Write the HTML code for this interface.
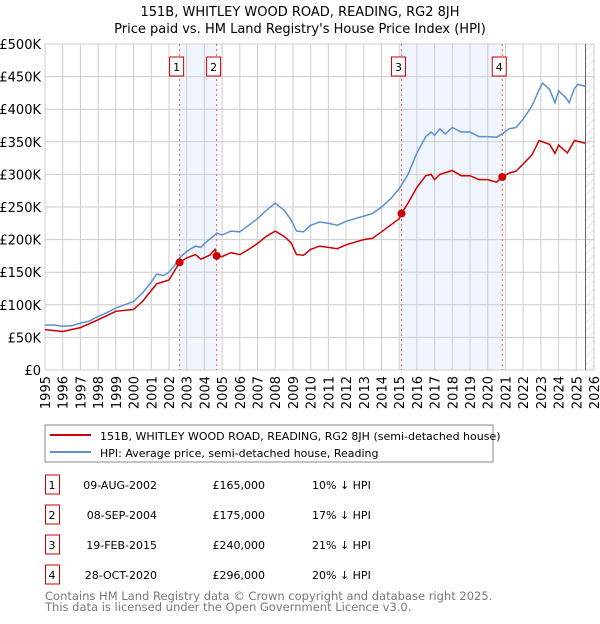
<!DOCTYPE html>
<html><head><meta charset="utf-8"><style>
body{margin:0;background:#fff;width:600px;height:620px;overflow:hidden;font-family:"DejaVu Sans","Liberation Sans",sans-serif;}
svg text{font-family:"DejaVu Sans","Liberation Sans",sans-serif;}
</style></head><body>
<svg id="chart" width="600" height="620">
<defs><pattern id="hatch" width="6" height="6" patternUnits="userSpaceOnUse" patternTransform="rotate(45)"><line x1="0" y1="0" x2="0" y2="6" stroke="#ccc" stroke-width="1"/></pattern></defs>
<text x="300" y="16" text-anchor="middle" font-size="13">151B, WHITLEY WOOD ROAD, READING, RG2 8JH</text>
<text x="300" y="33" text-anchor="middle" font-size="13">Price paid vs. HM Land Registry's House Price Index (HPI)</text>
<g id="plot"></g>
<rect x="45" y="425" width="448" height="37" fill="#fff" stroke="#888"/>
<line x1="50" y1="435" x2="91" y2="435" stroke="#cc0000" stroke-width="2"/>
<text x="100" y="440" font-size="11">151B, WHITLEY WOOD ROAD, READING, RG2 8JH (semi-detached house)</text>
<line x1="50" y1="452" x2="91" y2="452" stroke="#5b8fd0" stroke-width="2"/>
<text x="100" y="457" font-size="11">HPI: Average price, semi-detached house, Reading</text>
<g id="table" font-size="11"></g>
<text x="45" y="600" font-size="11.5" fill="#777">Contains HM Land Registry data © Crown copyright and database right 2025.</text>
<text x="45" y="611" font-size="11.5" fill="#777">This data is licensed under the Open Government Licence v3.0.</text>
</svg>
<script>
const hpiT=[1995,1995.5,1996,1996.5,1997,1997.5,1998,1998.5,1999,1999.5,2000,2000.5,2001,2001.3,2001.7,2002,2002.3,2002.6,2003,2003.5,2003.8,2004,2004.5,2004.7,2005,2005.5,2006,2006.5,2007,2007.5,2008,2008.5,2008.9,2009.2,2009.6,2010,2010.5,2011,2011.5,2012,2012.5,2013,2013.5,2014,2014.5,2015,2015.5,2016,2016.5,2016.8,2017,2017.3,2017.6,2018,2018.5,2019,2019.5,2020,2020.5,2020.8,2021.2,2021.6,2022,2022.5,2022.9,2023.1,2023.5,2023.8,2024,2024.4,2024.6,2024.9,2025.1,2025.5];
const hpiV=[69,69,67,68,72,75,82,88,95,100,105,118,135,147,145,150,160,172,182,190,188,194,205,210,207,213,212,222,232,245,256,245,230,213,212,222,227,225,222,228,232,236,240,250,262,278,300,333,358,365,360,370,362,372,365,365,358,358,357,362,370,372,385,405,430,440,430,410,428,418,410,432,438,435];
const ppT=[1995,1996,1997,1998,1999,2000,2000.5,2001,2001.3,2002,2002.6,2003,2003.5,2003.8,2004.3,2004.6,2004.69,2005,2005.5,2006,2006.5,2007,2007.5,2008,2008.5,2008.9,2009.2,2009.6,2010,2010.5,2011,2011.5,2012,2012.5,2013,2013.5,2014,2014.5,2015,2015.13,2015.5,2016,2016.5,2016.8,2017,2017.3,2018,2018.5,2019,2019.5,2020,2020.5,2020.82,2021.2,2021.6,2022,2022.5,2022.9,2023.5,2023.8,2024,2024.5,2024.9,2025.5];
const ppV=[62,59,65,77,90,93,105,122,132,138,165,172,177,170,176,185,175,174,180,177,185,194,205,213,205,195,177,176,185,190,188,186,192,196,200,202,212,222,232,240,256,280,298,300,292,300,306,298,298,292,292,288,296,302,305,316,330,352,346,332,345,333,352,348];
const saleT=[2002.6,2004.69,2015.13,2020.82];
const saleV=[165,175,240,296];
const saleLabels=["1","2","3","4"];
const saleDates=["09-AUG-2002","08-SEP-2004","19-FEB-2015","28-OCT-2020"];
const salePrices=["£165,000","£175,000","£240,000","£296,000"];
const saleDiffs=["10% ↓ HPI","17% ↓ HPI","21% ↓ HPI","20% ↓ HPI"];
const yTicks=[0,50,100,150,200,250,300,350,400,450,500];
const yLabels=["£0","£50K","£100K","£150K","£200K","£250K","£300K","£350K","£400K","£450K","£500K"];
const xStart=1995,xEnd=2026,nowT=2025.52;
const NS="http://www.w3.org/2000/svg";
const L=45,R=594,T=44,B=370;
const X=t=>L+(t-xStart)/(xEnd-xStart)*(R-L);
const Y=v=>B-v/500*(B-T);
const g=document.getElementById('plot');
function mk(tag,attrs,parent){const e=document.createElementNS(NS,tag);for(const k in attrs)e.setAttribute(k,attrs[k]);(parent||g).appendChild(e);return e;}
for(let i=0;i<saleT.length;i+=2){const r=mk('rect',{x:X(saleT[i]),y:T,width:X(saleT[i+1])-X(saleT[i]),height:B-T,fill:'#eef3fc',opacity:0.9});

}
const h=mk('rect',{x:X(nowT),y:T,width:R-X(nowT),height:B-T,fill:'url(#hatch)'});


yTicks.forEach((v,i)=>{const l=mk('line',{x1:L,x2:R,y1:Y(v),y2:Y(v),stroke:'#ccc'});


const t=mk('text',{x:L-4,y:Y(v)+5,'text-anchor':'end','font-size':13});t.textContent=yLabels[i];

});
for(let yr=xStart;yr<=xEnd;yr++){const l=mk('line',{x1:X(yr),x2:X(yr),y1:T,y2:B,stroke:'#ccc'});


const t=mk('text',{x:0,y:0,'text-anchor':'end','font-size':13,transform:`translate(${X(yr)+5},${B+6}) rotate(-90)`});t.textContent=yr;

}
const nl=mk('line',{x1:X(nowT),x2:X(nowT),y1:T,y2:B,stroke:'#666'});


saleT.forEach((t,i)=>{const l=mk('line',{x1:X(t),x2:X(t),y1:T,y2:B,stroke:'#e06060','stroke-dasharray':'2,3'});


const bx=mk('rect',{x:X(t)-10,y:57,width:14,height:19,fill:'#fff',stroke:'#cc0000'});


const tx=mk('text',{x:X(t)-3,y:71,'text-anchor':'middle','font-size':11});tx.textContent=saleLabels[i];

});
const pts=(ts,vs)=>ts.map((t,i)=>X(t).toFixed(1)+','+Y(vs[i]).toFixed(1)).join(' ');
const hl=mk('polyline',{points:pts(hpiT,hpiV),fill:'none',stroke:'#5b8fd0','stroke-width':1.5});


const pl=mk('polyline',{points:pts(ppT,ppV),fill:'none',stroke:'#cc0000','stroke-width':1.5});


saleT.forEach((t,i)=>{const c=mk('circle',{cx:X(t),cy:Y(saleV[i]),r:4,fill:'#cc0000'});

});
const tb=document.getElementById('table');
saleT.forEach((t,i)=>{const y0=483+i*30;
const b=mk('rect',{x:45.5,y:y0-8,width:14,height:19,fill:'#fff',stroke:'#cc0000'},tb);


const cols=[[52,saleLabels[i],'middle'],[157,saleDates[i],'end'],[265,salePrices[i],'end'],[312,saleDiffs[i],'start']];
cols.forEach(c=>{const e=mk('text',{x:c[0],y:y0+6,'text-anchor':c[2]},tb);e.textContent=c[1];

});});
</script>
</body></html>
